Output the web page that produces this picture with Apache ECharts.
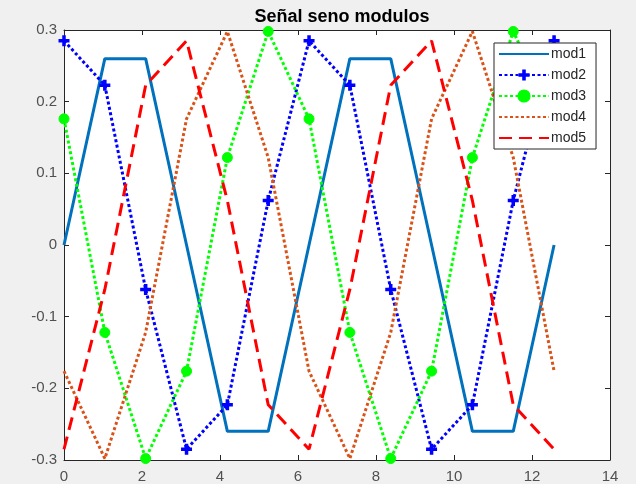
<!DOCTYPE html>
<html>
<head>
<meta charset="utf-8">
<script src="https://cdn.jsdelivr.net/npm/echarts@6/dist/echarts.min.js"></script>
<style>
html,body{margin:0;padding:0;background:#f0f0f0;}
#c{width:636px;height:484px;}
</style>
</head>
<body>
<div id="c"></div>
<script>
// x samples (step of about 1.047)
var xs = [0, 1.047, 2.094, 3.142, 4.189, 5.236, 6.283, 7.330, 8.378, 9.425, 10.472, 11.519, 12.566];
var mod1 = [0, 0.260, 0.260, 0, -0.260, -0.260, 0, 0.260, 0.260, 0, -0.260, -0.260, 0];
var mod2 = [0.285, 0.223, -0.062, -0.285, -0.223, 0.062, 0.285, 0.223, -0.062, -0.285, -0.223, 0.062, 0.285];
var mod3 = [0.176, -0.122, -0.298, -0.176, 0.122, 0.298, 0.176, -0.122, -0.298, -0.176, 0.122, 0.298, 0.176];
var mod4 = [-0.176, -0.298, -0.122, 0.176, 0.298, 0.122, -0.176, -0.298, -0.122, 0.176, 0.298, 0.122, -0.176];
var mod5 = [-0.285, -0.062, 0.223, 0.285, 0.062, -0.223, -0.285, -0.062, 0.223, 0.285, 0.062, -0.223, -0.285];
var seriesNames = ['mod1', 'mod2', 'mod3', 'mod4', 'mod5'];
var xTicks = [0, 2, 4, 6, 8, 10, 12, 14];
var yTicks = [-0.3, -0.2, -0.1, 0, 0.1, 0.2, 0.3];

function pairs(ys) { return xs.map(function (x, i) { return [x, ys[i]]; }); }

var FONT = 'Liberation Sans, Arial, Helvetica, sans-serif';
var AX = '#262626';
var plusPath = 'path://M3.4,0H6.6V3.4H10V6.6H6.6V10H3.4V6.6H0V3.4H3.4Z';
var noMarker = { mod1: true, mod4: true, mod5: true };

function axisCommon(showLabel, pos) {
  return {
    axisLine: { show: true, onZero: false, lineStyle: { color: AX, width: 1 } },
    axisTick: { show: true, inside: true, length: 5, lineStyle: { color: AX, width: 1 } },
    splitLine: { show: false },
    axisLabel: {
      show: showLabel, color: '#505050', fontFamily: FONT, fontSize: 15,
      margin: pos === 'y' ? 7 : 9,
      formatter: function (v) { return String(Math.round(v * 10) / 10); }
    }
  };
}

var chart = echarts.init(document.getElementById('c'), null, { renderer: 'canvas' });
var option = {
  backgroundColor: '#f0f0f0',
  animation: false,
  title: {
    text: 'Señal seno modulos',
    left: 337, top: 3, textAlign: 'center',
    textStyle: { fontFamily: FONT, fontSize: 18, fontWeight: 'bold', color: '#000' }
  },
  grid: { left: 64, right: 26, top: 30, bottom: 24, show: true, backgroundColor: '#ffffff', borderWidth: 0 },
  legend: {
    orient: 'vertical', left: 494, top: 43,
    itemWidth: 50, itemHeight: 14, itemGap: 7, padding: [4, 10, 4, 4],
    backgroundColor: '#ffffff', borderColor: AX, borderWidth: 1,
    textStyle: { fontFamily: FONT, fontSize: 14, color: '#262626', padding: [0, 0, 0, -3] },
    data: seriesNames.map(function (n) {
      return noMarker[n] ? { name: n, itemStyle: { opacity: 0 } } : { name: n };
    })
  },
  xAxis: [
    Object.assign({ type: 'value', min: 0, max: 14, interval: 2, position: 'bottom' }, axisCommon(true, 'x')),
    Object.assign({ type: 'value', min: 0, max: 14, interval: 2, position: 'top' }, axisCommon(false, 'x'))
  ],
  yAxis: [
    Object.assign({ type: 'value', min: -0.3, max: 0.3, interval: 0.1, position: 'left' }, axisCommon(true, 'y')),
    Object.assign({ type: 'value', min: -0.3, max: 0.3, interval: 0.1, position: 'right' }, axisCommon(false, 'y'))
  ],
  series: [
    { name: 'mod1', type: 'line', data: pairs(mod1), symbol: 'none', color: '#0072BD',
      lineStyle: { color: '#0072BD', width: 3, type: 'solid' } },
    { name: 'mod2', type: 'line', data: pairs(mod2), symbol: plusPath, symbolSize: 11, color: '#0000FF',
      itemStyle: { color: '#0000FF', borderWidth: 0 },
      lineStyle: { color: '#0000FF', width: 3, type: [3, 2.5] } },
    { name: 'mod3', type: 'line', data: pairs(mod3), symbol: 'circle', symbolSize: 10, color: '#00FF00',
      itemStyle: { color: '#00FF00', borderColor: '#00FF00', borderWidth: 1 },
      lineStyle: { color: '#00FF00', width: 3, type: [3, 2.5] } },
    { name: 'mod4', type: 'line', data: pairs(mod4), symbol: 'none', color: '#D95319',
      lineStyle: { color: '#D95319', width: 3, type: [3, 2.5] } },
    { name: 'mod5', type: 'line', data: pairs(mod5), symbol: 'none', color: '#FF0000',
      lineStyle: { color: '#FF0000', width: 3, type: [13, 7] } }
  ]
};
chart.setOption(option);
</script>
</body>
</html>
